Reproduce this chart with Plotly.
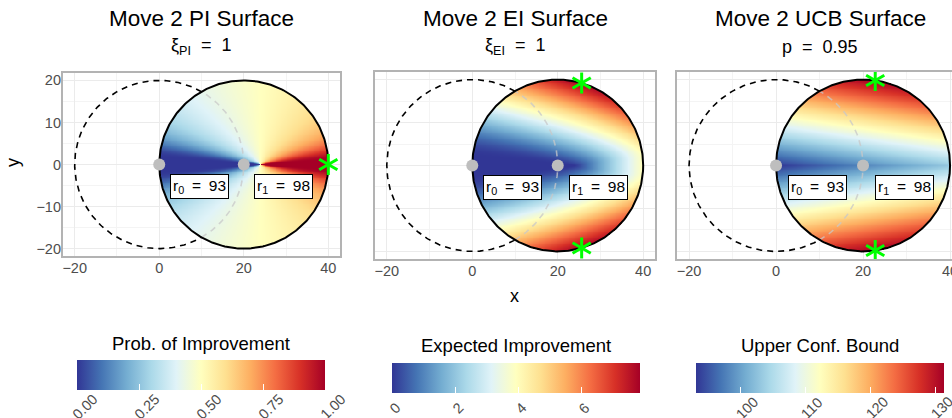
import math
from statistics import NormalDist
import numpy as np
import plotly.graph_objects as go

# ---------------- data ----------------
obs_x = [0, 20]          # positions of the two observed moves
obs_y = [0, 0]
obs_r = [93, 98]         # observed responses
obs_sub = ["0", "1"]
move_radius = 20         # radius of the feasible move circle
xi_pi = 1
xi_ei = 1
ucb_p = 0.95
slope_sd = 1.0           # prior sd of the unidentified y-slope

panel_titles = ["Move 2 PI Surface", "Move 2 EI Surface", "Move 2 UCB Surface"]
panel_subtitles = ["ξ<sub>PI</sub>  =  1", "ξ<sub>EI</sub>  =  1", "p  =  0.95"]
colorbar_titles = ["Prob. of Improvement", "Expected Improvement", "Upper Conf. Bound"]
x_ticks = [-20, 0, 20, 40]
y_ticks = [-20, -10, 0, 10, 20]
pi_ticks = [0, 0.25, 0.5, 0.75, 1.0]
ei_ticks = [0, 2, 4, 6]
ucb_ticks = [100, 110, 120, 130]

# ---------------- surfaces ----------------
W, H = 952, 418
cx, cy = obs_x[-1], obs_y[-1]
R = move_radius
half = np.linspace(0, R, 101)
offs = np.concatenate([-half[::-1], half[1:]])
gx = cx + offs
gy = cy + offs
X, Y = np.meshgrid(gx, gy)
inside = (X - cx) ** 2 + (Y - cy) ** 2 <= R ** 2 * (1 + 1e-9)

slope = (obs_r[1] - obs_r[0]) / (obs_x[1] - obs_x[0])
mu = obs_r[0] + slope * (X - obs_x[0])
sd = slope_sd * np.abs(Y - obs_y[0])
best = max(obs_r)
erf = np.vectorize(math.erf)


def Phi(z):
    return 0.5 * (1 + erf(z / math.sqrt(2)))


def phi(z):
    return np.exp(-0.5 * z ** 2) / math.sqrt(2 * math.pi)


safe_sd = np.where(sd > 0, sd, 1.0)
d_pi = mu - best - xi_pi
z_pi = d_pi / safe_sd
PI = np.where(sd > 0, Phi(z_pi), np.where(d_pi > 0, 1.0, np.where(d_pi < 0, 0.0, 0.5)))
d_ei = mu - best - xi_ei
z_ei = d_ei / safe_sd
EI = np.where(sd > 0, d_ei * Phi(z_ei) + sd * phi(z_ei), np.maximum(d_ei, 0))
zp = NormalDist().inv_cdf(ucb_p)
UCB = mu + zp * sd

surfaces = [np.where(inside, S, np.nan) for S in (PI, EI, UCB)]


def argmax_points(S):
    m = np.nanmax(S)
    tied = np.where(inside & (S >= m - 1e-9 * abs(m) - 1e-12))
    xs, ys = X[tied], Y[tied]
    keep = xs >= xs.max() - 1e-9
    return xs[keep], ys[keep]


# ---------------- layout geometry (pixels) ----------------
panels = [
    dict(l=62, r=341, t=72, b=257, xr=[-23, 43]),
    dict(l=374, r=656, t=71, b=260, xr=[-23, 43]),
    dict(l=676, r=952, t=71, b=260, xr=[-23, -23 + 276 / 4.35]),
]
title_cx = [201, 515, 820]
cbar_cx = [201, 516, 819.5]
cbar_len = 248
cbar_top = [360, 363, 363]
cbar_title_y = [343, 345, 345]
cbar_label_y = [407, 408, 408]

fig = go.Figure()
GRID = "#EBEBEB"
MINOR = "#F4F4F4"
TICKC = "#4D4D4D"
FONT = "Liberation Sans, Arial, sans-serif"

cmins = [0, 0, float(np.nanmin(surfaces[2]))]
cmaxs = [1, float(np.nanmax(surfaces[1])), float(np.nanmax(surfaces[2]))]
cticks = [pi_ticks, ei_ticks, ucb_ticks]
cfmt = ["{:.2f}", "{:d}", "{:d}"]

theta_full = np.linspace(0, 2 * np.pi, 361)
ang_cut = math.degrees(math.acos((R / 2) / R))  # intersection angle of the two circles


def paper_text(xpx, ypx, text, size, angle=0, color="black"):
    fig.add_annotation(x=xpx / W, y=1 - ypx / H, xref="paper", yref="paper",
                       xanchor="center", yanchor="middle", text=text, textangle=angle,
                       showarrow=False, font=dict(size=size, color=color, family=FONT))


for i in range(3):
    xa = "x" if i == 0 else f"x{i+1}"
    ya = "y" if i == 0 else f"y{i+1}"
    ca = "coloraxis" if i == 0 else f"coloraxis{i+1}"
    fig.add_trace(go.Heatmap(x=gx, y=gy, z=surfaces[i], coloraxis=ca,
                             xaxis=xa, yaxis=ya, hoverongaps=False))
    # previous-move circle centred at first observed point
    t_out = np.radians(np.linspace(ang_cut, 360 - ang_cut, 241))
    fig.add_trace(go.Scatter(x=obs_x[0] + R * np.cos(t_out), y=obs_y[0] + R * np.sin(t_out),
                             mode="lines", line=dict(color="black", width=1.6, dash="6px,5px"),
                             xaxis=xa, yaxis=ya, hoverinfo="skip"))
    t_in = np.radians(np.linspace(-ang_cut, ang_cut, 81))
    fig.add_trace(go.Scatter(x=obs_x[0] + R * np.cos(t_in), y=obs_y[0] + R * np.sin(t_in),
                             mode="lines", line=dict(color="rgba(200,200,200,0.75)", width=1.6, dash="6px,5px"),
                             xaxis=xa, yaxis=ya, hoverinfo="skip"))
    # current move circle
    fig.add_trace(go.Scatter(x=cx + R * np.cos(theta_full), y=cy + R * np.sin(theta_full),
                             mode="lines", line=dict(color="black", width=2),
                             xaxis=xa, yaxis=ya, hoverinfo="skip"))
    # observed points
    fig.add_trace(go.Scatter(x=obs_x, y=obs_y, mode="markers",
                             marker=dict(color="#BEBEBE", size=12),
                             xaxis=xa, yaxis=ya, hoverinfo="skip"))
    # best points: six-armed asterisk built from three rotated strokes
    sx, sy = argmax_points(surfaces[i])
    for ang in (0, 60, 120):
        fig.add_trace(go.Scatter(x=sx, y=sy, mode="markers",
                                 marker=dict(symbol="line-ns-open", size=15, angle=ang, color="#00FF00",
                                             line=dict(color="#00FF00", width=3)),
                                 xaxis=xa, yaxis=ya, hoverinfo="skip"))
    # labels
    for k in range(2):
        fig.add_annotation(x=obs_x[k] + 9.5, y=obs_y[k] - 5.2, xref=xa, yref=ya,
                           xanchor="center", yanchor="middle",
                           text=f"r<sub>{obs_sub[k]}</sub>\u2002=\u2002{obs_r[k]}",
                           showarrow=False, font=dict(size=15.5, color="black", family=FONT),
                           bgcolor="white", bordercolor="black", borderwidth=1, borderpad=2)

    p = panels[i]
    xkey = "xaxis" if i == 0 else f"xaxis{i+1}"
    ykey = "yaxis" if i == 0 else f"yaxis{i+1}"
    fig.update_layout(**{
        xkey: dict(domain=[p["l"] / W, p["r"] / W], range=p["xr"], anchor=ya, automargin=False,
                   tickvals=x_ticks, showgrid=True, gridcolor=GRID, gridwidth=1.2,
                   minor=dict(tickvals=[-10, 10, 30], showgrid=True, gridcolor=MINOR, gridwidth=1),
                   zeroline=False, showline=False, ticks="", ticklabeloverflow="allow",
                   tickfont=dict(size=14.5, color=TICKC, family=FONT)),
        ykey: dict(domain=[1 - p["b"] / H, 1 - p["t"] / H], range=[-22, 22], anchor=xa, automargin=False,
                   tickvals=y_ticks, showgrid=True, gridcolor=GRID, gridwidth=1.2,
                   minor=dict(tickvals=[-15, -5, 5, 15], showgrid=True, gridcolor=MINOR, gridwidth=1),
                   zeroline=False, showline=False, ticks="", showticklabels=(i == 0),
                   tickfont=dict(size=14.5, color=TICKC, family=FONT)),
        ca: dict(colorscale="RdYlBu", reversescale=True, cmin=cmins[i], cmax=cmaxs[i],
                 colorbar=dict(orientation="h", lenmode="pixels", len=cbar_len,
                               thicknessmode="pixels", thickness=30,
                               x=cbar_cx[i] / W, xanchor="center",
                               y=1 - cbar_top[i] / H, yanchor="top", ypad=0, xpad=0,
                               tickvals=cticks[i], showticklabels=False,
                               ticks="inside", ticklen=6, tickcolor="white", tickwidth=1,
                               outlinewidth=0)),
    })
    # colorbar tick labels (rotated 45 degrees)
    for tv in cticks[i]:
        lab = cfmt[i].format(tv)
        tx = cbar_cx[i] - cbar_len / 2 + (tv - cmins[i]) / (cmaxs[i] - cmins[i]) * cbar_len
        paper_text(tx + 1.5 + 1.6 * len(lab), cbar_label_y[i], lab, 14.5, angle=-45, color=TICKC)
    # panel border
    fig.add_shape(type="rect", xref=f"{xa} domain", yref=f"{ya} domain",
                  x0=0, x1=1 if i < 2 else 1.05, y0=0, y1=1,
                  line=dict(color="#B3B3B3", width=2), fillcolor="rgba(0,0,0,0)", layer="above")
    paper_text(title_cx[i], 18, panel_titles[i], 22.5)
    paper_text(title_cx[i], 47, panel_subtitles[i], 18)
    paper_text(cbar_cx[i], cbar_title_y[i], colorbar_titles[i], 18.5)

paper_text(13, 163, "y", 18, angle=-90)
paper_text(514, 296, "x", 18)

fig.update_layout(width=W, height=H, margin=dict(l=0, r=0, t=0, b=0, autoexpand=False),
                  paper_bgcolor="white", plot_bgcolor="white", showlegend=False,
                  font=dict(family=FONT))
fig.write_html("out.html", config={"displayModeBar": False},
               post_script="document.body.style.margin='0';document.body.style.overflow='hidden';")
